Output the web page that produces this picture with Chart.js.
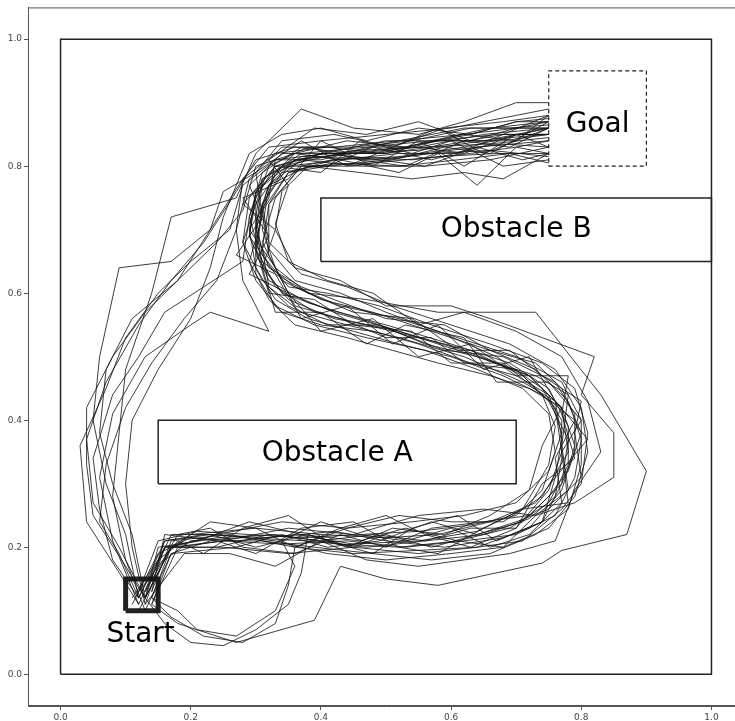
<!DOCTYPE html>
<html lang="en">
<head>
    <meta charset="UTF-8">
    <title>Trajectories</title>
    <script src="https://cdn.jsdelivr.net/npm/chart.js"></script>
    <style>
        html, body { margin: 0; padding: 0; background: #fff; overflow: hidden; }
        #wrap { width: 744px; height: 721px; }
    </style>
    <script>
        // Sampled trajectories, [x, y] in world units
        const traj01 = [[0.12,0.11],[0.16,0.2],[0.24,0.215],[0.33,0.22],[0.43,0.205],[0.52,0.2],[0.61,0.21],[0.69,0.23],[0.75,0.27],[0.78,0.33],[0.78,0.39],[0.75,0.45],[0.69,0.49],[0.6,0.52],[0.5,0.55],[0.41,0.575],[0.34,0.6],[0.3,0.66],[0.31,0.73],[0.35,0.79],[0.42,0.81],[0.52,0.815],[0.62,0.83],[0.69,0.845],[0.75,0.85]];
        const traj02 = [[0.14,0.13],[0.17,0.21],[0.26,0.22],[0.36,0.2],[0.45,0.19],[0.55,0.195],[0.64,0.2],[0.72,0.23],[0.77,0.29],[0.79,0.36],[0.77,0.42],[0.72,0.47],[0.64,0.5],[0.55,0.53],[0.46,0.56],[0.38,0.585],[0.32,0.62],[0.29,0.69],[0.3,0.76],[0.36,0.81],[0.45,0.82],[0.55,0.825],[0.65,0.84],[0.75,0.86]];
        const traj03 = [[0.11,0.12],[0.15,0.18],[0.2,0.22],[0.3,0.23],[0.4,0.22],[0.5,0.215],[0.58,0.22],[0.66,0.24],[0.73,0.27],[0.76,0.31],[0.77,0.37],[0.76,0.43],[0.71,0.46],[0.62,0.5],[0.52,0.53],[0.44,0.55],[0.37,0.57],[0.32,0.61],[0.31,0.67],[0.32,0.74],[0.37,0.8],[0.44,0.815],[0.54,0.81],[0.63,0.82],[0.7,0.83],[0.75,0.84]];
        const traj04 = [[0.13,0.1],[0.17,0.19],[0.23,0.21],[0.31,0.21],[0.39,0.2],[0.48,0.19],[0.57,0.18],[0.66,0.19],[0.73,0.22],[0.78,0.26],[0.8,0.33],[0.8,0.4],[0.77,0.46],[0.7,0.5],[0.61,0.53],[0.52,0.56],[0.43,0.58],[0.36,0.61],[0.31,0.65],[0.29,0.72],[0.31,0.78],[0.37,0.82],[0.47,0.83],[0.57,0.84],[0.66,0.86],[0.75,0.87]];
        const traj05 = [[0.12,0.13],[0.15,0.21],[0.21,0.225],[0.29,0.22],[0.37,0.215],[0.46,0.22],[0.55,0.225],[0.63,0.235],[0.7,0.25],[0.74,0.29],[0.76,0.35],[0.75,0.41],[0.71,0.45],[0.64,0.48],[0.56,0.51],[0.47,0.53],[0.39,0.55],[0.33,0.58],[0.3,0.63],[0.3,0.7],[0.32,0.77],[0.38,0.8],[0.48,0.805],[0.58,0.815],[0.67,0.82],[0.75,0.82]];
        const traj06 = [[0.14,0.11],[0.18,0.2],[0.25,0.21],[0.34,0.205],[0.44,0.21],[0.53,0.2],[0.62,0.21],[0.7,0.22],[0.76,0.25],[0.79,0.31],[0.8,0.37],[0.78,0.43],[0.73,0.48],[0.66,0.51],[0.57,0.54],[0.48,0.57],[0.4,0.59],[0.33,0.63],[0.29,0.69],[0.3,0.75],[0.33,0.8],[0.4,0.82],[0.5,0.82],[0.6,0.835],[0.68,0.85],[0.75,0.88]];
        const traj07 = [[0.13,0.12],[0.16,0.21],[0.22,0.22],[0.32,0.215],[0.42,0.225],[0.5,0.21],[0.59,0.2],[0.68,0.215],[0.74,0.24],[0.77,0.3],[0.79,0.35],[0.79,0.41],[0.76,0.46],[0.68,0.5],[0.59,0.51],[0.5,0.545],[0.42,0.56],[0.35,0.59],[0.31,0.64],[0.3,0.71],[0.32,0.77],[0.36,0.81],[0.44,0.82],[0.53,0.83],[0.63,0.85],[0.7,0.87],[0.75,0.875]];
        const traj08 = [[0.12,0.1],[0.16,0.18],[0.2,0.21],[0.28,0.215],[0.38,0.21],[0.47,0.2],[0.56,0.21],[0.65,0.22],[0.72,0.245],[0.76,0.28],[0.77,0.34],[0.77,0.4],[0.74,0.45],[0.67,0.5],[0.58,0.54],[0.5,0.57],[0.43,0.6],[0.36,0.62],[0.32,0.67],[0.32,0.74],[0.35,0.79],[0.41,0.8],[0.5,0.81],[0.6,0.825],[0.68,0.835],[0.75,0.83]];
        const traj09 = [[0.14,0.12],[0.17,0.2],[0.24,0.22],[0.34,0.24],[0.44,0.23],[0.54,0.24],[0.62,0.25],[0.7,0.27],[0.75,0.32],[0.77,0.38],[0.75,0.44],[0.7,0.47],[0.63,0.49],[0.55,0.52],[0.48,0.54],[0.4,0.55],[0.34,0.57],[0.3,0.62],[0.28,0.68],[0.29,0.75],[0.33,0.8],[0.39,0.815],[0.48,0.81],[0.57,0.82],[0.66,0.825],[0.75,0.815]];
        const traj10 = [[0.13,0.13],[0.17,0.22],[0.24,0.22],[0.33,0.21],[0.41,0.19],[0.5,0.18],[0.6,0.19],[0.68,0.2],[0.75,0.23],[0.79,0.28],[0.81,0.35],[0.8,0.42],[0.76,0.48],[0.69,0.52],[0.6,0.55],[0.51,0.58],[0.44,0.61],[0.37,0.63],[0.32,0.68],[0.31,0.74],[0.34,0.79],[0.42,0.805],[0.52,0.8],[0.61,0.81],[0.69,0.82],[0.75,0.805]];
        const traj11 = [[0.11,0.11],[0.15,0.19],[0.2,0.215],[0.27,0.21],[0.36,0.22],[0.45,0.205],[0.55,0.21],[0.64,0.225],[0.71,0.26],[0.75,0.33],[0.76,0.39],[0.74,0.44],[0.68,0.47],[0.6,0.5],[0.52,0.52],[0.45,0.54],[0.38,0.56],[0.33,0.59],[0.3,0.64],[0.29,0.7],[0.3,0.76],[0.34,0.8],[0.43,0.82],[0.52,0.84],[0.62,0.86],[0.69,0.86],[0.75,0.865]];
        const traj12 = [[0.13,0.11],[0.16,0.2],[0.25,0.2],[0.35,0.19],[0.45,0.2],[0.55,0.19],[0.64,0.2],[0.71,0.21],[0.77,0.26],[0.8,0.3],[0.81,0.38],[0.79,0.45],[0.74,0.49],[0.66,0.52],[0.57,0.55],[0.49,0.58],[0.41,0.6],[0.35,0.61],[0.31,0.66],[0.3,0.72],[0.31,0.78],[0.37,0.815],[0.46,0.825],[0.56,0.83],[0.66,0.835],[0.75,0.845]];
        // outliers: routes along the left wall, loops under the start, wide turn on the right
        const traj13 = [[0.13,0.12],[0.09,0.2],[0.05,0.27],[0.04,0.37],[0.07,0.46],[0.12,0.55],[0.17,0.62],[0.22,0.68],[0.27,0.76],[0.3,0.81],[0.36,0.83],[0.45,0.82],[0.55,0.83],[0.65,0.85],[0.75,0.86]];
        const traj14 = [[0.12,0.12],[0.1,0.22],[0.07,0.3],[0.05,0.4],[0.06,0.5],[0.09,0.64],[0.17,0.65],[0.23,0.7],[0.28,0.78],[0.32,0.83],[0.4,0.84],[0.5,0.85],[0.6,0.86],[0.7,0.88],[0.75,0.89]];
        const traj15 = [[0.13,0.1],[0.1,0.18],[0.08,0.28],[0.09,0.38],[0.1,0.48],[0.14,0.6],[0.17,0.72],[0.27,0.75],[0.3,0.82],[0.37,0.89],[0.45,0.86],[0.55,0.85],[0.62,0.87],[0.7,0.9],[0.75,0.9]];
        const traj16 = [[0.14,0.12],[0.17,0.09],[0.22,0.06],[0.28,0.05],[0.33,0.08],[0.35,0.14],[0.36,0.2],[0.44,0.23],[0.52,0.25],[0.6,0.24],[0.68,0.24],[0.74,0.28],[0.78,0.35],[0.77,0.42],[0.72,0.47],[0.62,0.51],[0.52,0.54],[0.42,0.57],[0.35,0.6],[0.32,0.66],[0.31,0.73],[0.33,0.79],[0.4,0.82],[0.5,0.84],[0.6,0.84],[0.68,0.84],[0.75,0.85]];
        const traj17 = [[0.14,0.11],[0.18,0.08],[0.27,0.05],[0.39,0.085],[0.43,0.17],[0.5,0.15],[0.58,0.14],[0.74,0.175],[0.77,0.195],[0.87,0.22],[0.9,0.32],[0.83,0.44],[0.73,0.57],[0.58,0.57],[0.47,0.59],[0.38,0.6],[0.33,0.64],[0.31,0.7],[0.32,0.77],[0.37,0.81],[0.46,0.8],[0.56,0.8],[0.66,0.81],[0.75,0.83]];
        const traj18 = [[0.12,0.11],[0.08,0.21],[0.06,0.31],[0.08,0.41],[0.13,0.5],[0.2,0.55],[0.23,0.57],[0.32,0.54],[0.28,0.62],[0.27,0.7],[0.29,0.78],[0.34,0.83],[0.42,0.83],[0.52,0.84],[0.62,0.85],[0.7,0.86],[0.75,0.87]];
        // noisier runs through the main corridor
        const traj19 = [[0.13,0.12],[0.17,0.2],[0.23,0.24],[0.3,0.23],[0.36,0.2],[0.43,0.23],[0.5,0.25],[0.56,0.22],[0.63,0.2],[0.7,0.23],[0.74,0.3],[0.79,0.34],[0.77,0.41],[0.78,0.47],[0.7,0.47],[0.63,0.52],[0.55,0.5],[0.48,0.56],[0.4,0.54],[0.35,0.6],[0.29,0.63],[0.32,0.69],[0.28,0.75],[0.35,0.78],[0.4,0.84],[0.48,0.8],[0.55,0.84],[0.62,0.8],[0.7,0.85],[0.75,0.83]];
        const traj20 = [[0.12,0.13],[0.18,0.21],[0.22,0.19],[0.28,0.23],[0.35,0.25],[0.41,0.21],[0.48,0.19],[0.54,0.23],[0.61,0.25],[0.67,0.21],[0.74,0.24],[0.76,0.31],[0.81,0.37],[0.76,0.43],[0.72,0.5],[0.65,0.48],[0.58,0.55],[0.51,0.52],[0.44,0.58],[0.37,0.56],[0.33,0.63],[0.27,0.66],[0.31,0.72],[0.3,0.79],[0.37,0.84],[0.44,0.8],[0.51,0.83],[0.58,0.86],[0.65,0.82],[0.7,0.84],[0.75,0.88]];
        const traj21 = [[0.14,0.13],[0.16,0.22],[0.24,0.21],[0.3,0.19],[0.37,0.23],[0.45,0.24],[0.52,0.2],[0.58,0.19],[0.65,0.23],[0.71,0.26],[0.78,0.27],[0.77,0.35],[0.8,0.4],[0.75,0.46],[0.67,0.46],[0.62,0.53],[0.53,0.55],[0.47,0.52],[0.4,0.57],[0.33,0.57],[0.31,0.64],[0.33,0.7],[0.28,0.74],[0.33,0.8],[0.4,0.79],[0.46,0.84],[0.54,0.82],[0.6,0.84],[0.68,0.8],[0.75,0.81]];
        const traj22 = [[0.13,0.11],[0.19,0.19],[0.26,0.19],[0.33,0.17],[0.4,0.21],[0.47,0.18],[0.55,0.17],[0.62,0.18],[0.69,0.19],[0.76,0.21],[0.79,0.29],[0.83,0.35],[0.81,0.43],[0.77,0.5],[0.7,0.54],[0.62,0.57],[0.55,0.55],[0.48,0.6],[0.41,0.62],[0.35,0.65],[0.33,0.71],[0.35,0.77],[0.32,0.81],[0.39,0.86],[0.47,0.85],[0.55,0.87],[0.63,0.84],[0.7,0.86],[0.75,0.86]];
        const traj23 = [[0.14,0.12],[0.18,0.1],[0.21,0.07],[0.27,0.06],[0.33,0.1],[0.36,0.17],[0.34,0.21],[0.4,0.24],[0.46,0.22],[0.53,0.21],[0.6,0.23],[0.66,0.2],[0.72,0.22],[0.77,0.27],[0.76,0.34],[0.79,0.4],[0.74,0.44],[0.68,0.49],[0.6,0.49],[0.54,0.54],[0.45,0.55],[0.39,0.59],[0.32,0.6],[0.3,0.67],[0.3,0.74],[0.34,0.8],[0.41,0.8],[0.48,0.83],[0.57,0.81],[0.64,0.83],[0.75,0.84]];
        const traj24 = [[0.13,0.12],[0.16,0.08],[0.2,0.05],[0.25,0.045],[0.3,0.07],[0.35,0.11],[0.37,0.16],[0.38,0.22],[0.45,0.2],[0.5,0.22],[0.57,0.2],[0.64,0.22],[0.71,0.24],[0.75,0.28],[0.78,0.32],[0.8,0.38],[0.77,0.45],[0.73,0.49],[0.66,0.51],[0.59,0.55],[0.5,0.56],[0.42,0.59],[0.37,0.61],[0.32,0.64],[0.3,0.7],[0.31,0.77],[0.36,0.82],[0.43,0.81],[0.52,0.82],[0.61,0.82],[0.68,0.85],[0.75,0.85]];
        const traj25 = [[0.12,0.12],[0.09,0.19],[0.06,0.24],[0.07,0.33],[0.1,0.42],[0.14,0.49],[0.19,0.56],[0.24,0.62],[0.27,0.7],[0.28,0.78],[0.33,0.82],[0.41,0.83],[0.49,0.82],[0.57,0.84],[0.66,0.84],[0.75,0.86]];
        const traj26 = [[0.13,0.11],[0.11,0.2],[0.1,0.3],[0.11,0.4],[0.15,0.48],[0.2,0.56],[0.23,0.64],[0.25,0.72],[0.29,0.82],[0.34,0.85],[0.4,0.86],[0.47,0.84],[0.55,0.86],[0.63,0.85],[0.7,0.87],[0.75,0.87]];
        const traj27 = [[0.12,0.12],[0.16,0.21],[0.23,0.22],[0.3,0.2],[0.38,0.22],[0.44,0.2],[0.51,0.23],[0.59,0.22],[0.66,0.25],[0.72,0.29],[0.74,0.36],[0.77,0.42],[0.72,0.45],[0.66,0.47],[0.58,0.49],[0.51,0.51],[0.44,0.53],[0.36,0.55],[0.32,0.59],[0.29,0.65],[0.31,0.72],[0.29,0.77],[0.34,0.82],[0.41,0.82],[0.49,0.81],[0.56,0.8],[0.64,0.83],[0.71,0.81],[0.75,0.82]];
        const traj28 = [[0.13,0.12],[0.15,0.2],[0.21,0.21],[0.29,0.24],[0.37,0.22],[0.46,0.21],[0.53,0.23],[0.61,0.21],[0.68,0.2],[0.73,0.25],[0.78,0.29],[0.77,0.36],[0.78,0.44],[0.73,0.47],[0.64,0.5],[0.56,0.52],[0.49,0.55],[0.41,0.55],[0.35,0.58],[0.31,0.62],[0.28,0.68],[0.3,0.74],[0.32,0.8],[0.38,0.83],[0.46,0.81],[0.53,0.8],[0.62,0.84],[0.69,0.83],[0.75,0.86]];
        const traj29 = [[0.14,0.11],[0.17,0.19],[0.27,0.2],[0.34,0.22],[0.41,0.2],[0.49,0.21],[0.57,0.24],[0.64,0.22],[0.7,0.24],[0.75,0.26],[0.8,0.31],[0.79,0.38],[0.8,0.43],[0.74,0.47],[0.69,0.51],[0.61,0.51],[0.54,0.56],[0.45,0.57],[0.38,0.6],[0.34,0.62],[0.31,0.68],[0.33,0.75],[0.37,0.8],[0.45,0.8],[0.51,0.81],[0.59,0.83],[0.66,0.82],[0.75,0.87]];
        const traj30 = [[0.13,0.12],[0.17,0.2],[0.25,0.21],[0.35,0.23],[0.45,0.22],[0.55,0.25],[0.65,0.26],[0.73,0.25],[0.79,0.27],[0.85,0.31],[0.85,0.38],[0.8,0.44],[0.82,0.5],[0.74,0.53],[0.66,0.56],[0.6,0.58],[0.5,0.58],[0.43,0.62],[0.36,0.64],[0.33,0.7],[0.34,0.76],[0.38,0.8],[0.46,0.79],[0.54,0.78],[0.62,0.79],[0.68,0.78],[0.75,0.82]];
        const traj31 = [[0.12,0.12],[0.16,0.2],[0.24,0.2],[0.32,0.22],[0.4,0.21],[0.48,0.22],[0.56,0.21],[0.63,0.23],[0.7,0.23],[0.75,0.29],[0.77,0.35],[0.76,0.42],[0.71,0.47],[0.63,0.51],[0.55,0.53],[0.47,0.55],[0.39,0.57],[0.33,0.61],[0.3,0.67],[0.31,0.74],[0.35,0.8],[0.43,0.81],[0.52,0.79],[0.58,0.82],[0.64,0.77],[0.7,0.83],[0.75,0.82]];
        const traj32 = [[0.13,0.13],[0.18,0.22],[0.23,0.23],[0.28,0.2],[0.36,0.19],[0.43,0.22],[0.5,0.2],[0.57,0.23],[0.65,0.24],[0.72,0.25],[0.77,0.3],[0.78,0.37],[0.75,0.43],[0.7,0.48],[0.62,0.49],[0.57,0.53],[0.5,0.53],[0.43,0.56],[0.36,0.58],[0.33,0.64],[0.29,0.7],[0.32,0.75],[0.33,0.81],[0.4,0.81],[0.48,0.83],[0.55,0.83],[0.62,0.82],[0.7,0.85],[0.75,0.85]];
        // more runs along the left wall
        const traj33 = [[0.13,0.12],[0.1,0.17],[0.05,0.25],[0.04,0.33],[0.04,0.42],[0.08,0.5],[0.13,0.57],[0.19,0.63],[0.24,0.68],[0.28,0.73],[0.3,0.8],[0.36,0.82],[0.44,0.84],[0.53,0.83],[0.62,0.85],[0.7,0.84],[0.75,0.86]];
        const traj34 = [[0.12,0.11],[0.09,0.16],[0.04,0.24],[0.03,0.36],[0.07,0.45],[0.1,0.53],[0.15,0.6],[0.2,0.65],[0.26,0.7],[0.28,0.77],[0.33,0.81],[0.41,0.82],[0.5,0.82],[0.58,0.84],[0.67,0.85],[0.75,0.85]];
        const traj35 = [[0.13,0.12],[0.11,0.22],[0.08,0.3],[0.06,0.38],[0.07,0.48],[0.11,0.56],[0.18,0.62],[0.23,0.7],[0.25,0.76],[0.3,0.79],[0.34,0.84],[0.42,0.85],[0.51,0.83],[0.59,0.86],[0.68,0.87],[0.75,0.88]];
        const traj36 = [[0.12,0.12],[0.08,0.18],[0.06,0.26],[0.05,0.34],[0.08,0.44],[0.12,0.5],[0.16,0.57],[0.22,0.61],[0.28,0.65],[0.29,0.72],[0.31,0.79],[0.37,0.83],[0.45,0.83],[0.54,0.84],[0.63,0.86],[0.75,0.86]];
        const trajectories = [traj01, traj02, traj03, traj04, traj05, traj06, traj07, traj08,
            traj09, traj10, traj11, traj12, traj13, traj14, traj15, traj16,
            traj17, traj18, traj19, traj20, traj21, traj22, traj23, traj24,
            traj25, traj26, traj27, traj28, traj29, traj30, traj31, traj32,
            traj33, traj34, traj35, traj36];

        // Scene geometry: [xmin, ymin, xmax, ymax]
        const boundary = [0, 0, 1, 1];
        const obstacleA = [0.15, 0.3, 0.7, 0.4];
        const obstacleB = [0.4, 0.65, 1.0, 0.75];
        const goalBox = [0.75, 0.8, 0.9, 0.95];
        const startBox = [0.1, 0.1, 0.15, 0.15];

        // Text labels: [text, x, y]
        const sceneLabels = [['Goal', 0.825, 0.866], ['Obstacle B', 0.7, 0.7], ['Obstacle A', 0.425, 0.348], ['Start', 0.123, 0.063]];
        const tickValues = [0, 0.2, 0.4, 0.6, 0.8, 1.0];

        function toPoints(arr) {
            return arr.map(p => ({ x: p[0], y: p[1] }));
        }

        function rectPoints(r) {
            return [{ x: r[0], y: r[1] }, { x: r[2], y: r[1] }, { x: r[2], y: r[3] }, { x: r[0], y: r[3] }, { x: r[0], y: r[1] }];
        }

        function rectDataset(r, width, dash) {
            return {
                data: rectPoints(r), showLine: true, pointRadius: 0, fill: false,
                borderColor: '#222', borderWidth: width, borderDash: dash || [], tension: 0
            };
        }

        // frame around the whole axes plus the text labels
        const scenePlugin = {
            id: 'scene',
            afterDatasetsDraw(chart) {
                const ctx = chart.ctx;
                const a = chart.chartArea;
                const xs = chart.scales.x, ys = chart.scales.y;
                ctx.save();
                ctx.strokeStyle = '#555';
                ctx.lineWidth = 1;
                ctx.strokeRect(a.left + 0.5, a.top + 0.5, a.right - a.left - 1, a.bottom - a.top - 1);
                ctx.fillStyle = '#000';
                ctx.font = '28px "DejaVu Sans"';
                ctx.textAlign = 'center';
                ctx.textBaseline = 'middle';
                sceneLabels.forEach(l => {
                    ctx.fillText(l[0], xs.getPixelForValue(l[1]), ys.getPixelForValue(l[2]));
                });
                ctx.restore();
            }
        };

        document.addEventListener('DOMContentLoaded', () => {
            const datasets = trajectories.map(t => ({
                data: toPoints(t), showLine: true, pointRadius: 0, fill: false,
                borderColor: 'rgba(20,20,20,0.82)', borderWidth: 1, tension: 0
            }));
            datasets.push(rectDataset(boundary, 1.5));
            datasets.push(rectDataset(obstacleA, 1.5));
            datasets.push(rectDataset(obstacleB, 1.5));
            datasets.push(rectDataset(goalBox, 1.2, [4, 3]));
            datasets.push(rectDataset(startBox, 5));

            const axisCommon = {
                type: 'linear', min: -0.05, max: 1.05,
                grid: { drawOnChartArea: false, tickLength: 4, color: '#555' },
                border: { color: '#555' },
                afterBuildTicks: s => { s.ticks = tickValues.map(v => ({ value: v })); },
                ticks: {
                    color: '#444', font: { family: 'DejaVu Sans', size: 9 }, padding: 2,
                    callback: v => v.toFixed(1)
                }
            };

            new Chart(document.getElementById('plot'), {
                type: 'scatter',
                data: { datasets },
                options: {
                    responsive: false,
                    animation: false,
                    layout: { padding: { top: 7, right: 0, left: 0, bottom: 0 } },
                    plugins: { legend: { display: false }, tooltip: { enabled: false } },
                    scales: {
                        x: Object.assign({}, axisCommon, { afterFit: s => { s.height = 15; } }),
                        y: Object.assign({}, axisCommon, { afterFit: s => { s.width = 28; } })
                    }
                },
                plugins: [scenePlugin]
            });
        });
    </script>
</head>
<body>
    <div id="wrap"><canvas id="plot" width="744" height="721"></canvas></div>
</body>
</html>
